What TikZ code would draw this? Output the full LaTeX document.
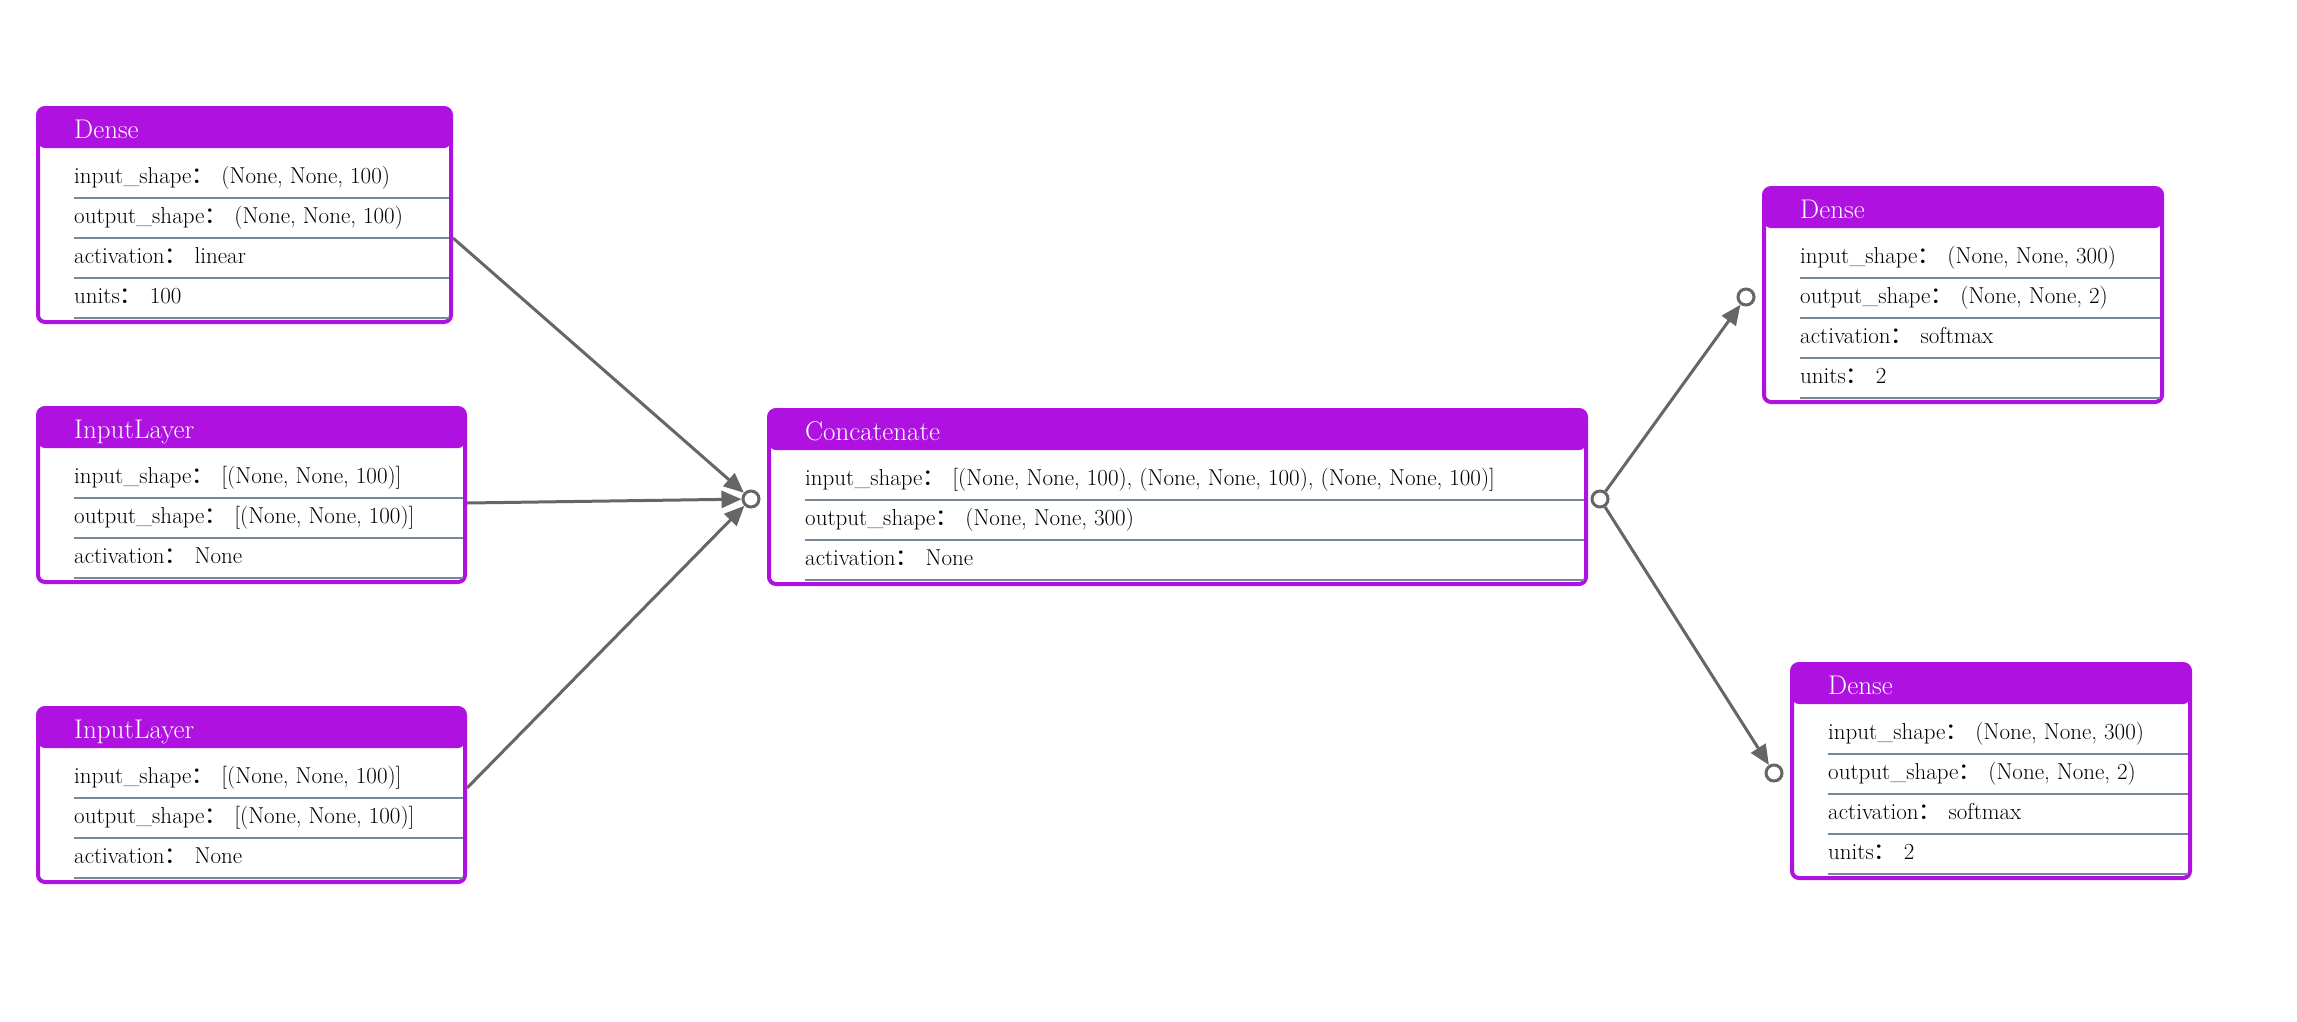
\documentclass[tikz,border=0pt]{standalone}
\usepackage{fontspec}
\newfontfamily\cjk{Noto Sans CJK SC}
\usetikzlibrary{arrows.meta}

\definecolor{layerpurple}{RGB}{174,17,224}
\definecolor{rowline}{RGB}{119,136,153}
\definecolor{linkgray}{RGB}{102,102,102}
\newcommand{\colonzh}{{\cjk ：}\hspace{0.3em}}
\newcommand{\headfont}{\fontsize{27pt}{32pt}\selectfont}
\newcommand{\fieldfont}{\fontsize{23pt}{28pt}\selectfont}

\begin{document}
\begin{tikzpicture}[x=1pt, y=-1pt,
    layer/.style={draw=layerpurple, line width=4pt, fill=white, rounded corners=7pt,
        inner sep=0pt, anchor=north west,
        path picture={\fill[layerpurple] (path picture bounding box.north west)
            rectangle ([yshift=-40pt]path picture bounding box.north east);}},
    headtext/.style={anchor=west, inner sep=0pt, text height=18pt, text depth=6pt,
        text=white, font=\headfont},
    fieldtext/.style={anchor=base west, inner sep=0pt, font=\fieldfont},
    rowsep/.style={draw=rowline, line width=2pt},
    port/.style={circle, draw=linkgray, line width=3pt, fill=white, minimum size=16pt, inner sep=0pt},
    link/.style={draw=linkgray, line width=3pt, -{Triangle[length=20pt, width=17pt]}}]
    \useasboundingbox (0,0) rectangle (2297,1021);

    % layer boxes
    \node[layer, minimum width=413pt, minimum height=214pt] (d1) at (36,106) {};
    \node[layer, minimum width=427pt, minimum height=174pt] (in1) at (36,406) {};
    \node[layer, minimum width=427pt, minimum height=174pt] (in2) at (36,706) {};
    \node[layer, minimum width=817pt, minimum height=174pt] (cat) at (767,408) {};
    \node[layer, minimum width=398pt, minimum height=214pt] (d2) at (1762,186) {};
    \node[layer, minimum width=398pt, minimum height=214pt] (d3) at (1790,662) {};

    % row separators
    \draw[rowsep] (74,198) -- (449,198);
    \draw[rowsep] (74,238) -- (449,238);
    \draw[rowsep] (74,278) -- (449,278);
    \draw[rowsep] (74,318) -- (449,318);
    \draw[rowsep] (74,498) -- (463,498);
    \draw[rowsep] (74,538) -- (463,538);
    \draw[rowsep] (74,578) -- (463,578);
    \draw[rowsep] (74,798) -- (463,798);
    \draw[rowsep] (74,838) -- (463,838);
    \draw[rowsep] (74,878) -- (463,878);
    \draw[rowsep] (805,500) -- (1584,500);
    \draw[rowsep] (805,540) -- (1584,540);
    \draw[rowsep] (805,580) -- (1584,580);
    \draw[rowsep] (1800,278) -- (2160,278);
    \draw[rowsep] (1800,318) -- (2160,318);
    \draw[rowsep] (1800,358) -- (2160,358);
    \draw[rowsep] (1800,398) -- (2160,398);
    \draw[rowsep] (1828,754) -- (2188,754);
    \draw[rowsep] (1828,794) -- (2188,794);
    \draw[rowsep] (1828,834) -- (2188,834);
    \draw[rowsep] (1828,874) -- (2188,874);

    % titles
    \node[headtext] (d1t) at (74,132) {Dense};
    \node[headtext] (in1t) at (74,432) {InputLayer};
    \node[headtext] (in2t) at (74,732) {InputLayer};
    \node[headtext] (catt) at (805,434) {Concatenate};
    \node[headtext] (d2t) at (1800,212) {Dense};
    \node[headtext] (d3t) at (1828,688) {Dense};

    % Dense (top left)
    \node[fieldtext] (d1a) at (74,183) {input\_shape\colonzh(None, None, 100)};
    \node[fieldtext] (d1b) at (74,223) {output\_shape\colonzh(None, None, 100)};
    \node[fieldtext] (d1c) at (74,263) {activation\colonzh linear};
    \node[fieldtext] (d1d) at (74,303) {units\colonzh 100};

    % InputLayer (middle left)
    \node[fieldtext] (in1a) at (74,483) {input\_shape\colonzh[(None, None, 100)]};
    \node[fieldtext] (in1b) at (74,523) {output\_shape\colonzh[(None, None, 100)]};
    \node[fieldtext] (in1c) at (74,563) {activation\colonzh None};

    % InputLayer (bottom left)
    \node[fieldtext] (in2a) at (74,783) {input\_shape\colonzh[(None, None, 100)]};
    \node[fieldtext] (in2b) at (74,823) {output\_shape\colonzh[(None, None, 100)]};
    \node[fieldtext] (in2c) at (74,863) {activation\colonzh None};

    % Concatenate
    \node[fieldtext] (cata) at (805,485) {input\_shape\colonzh[(None, None, 100), (None, None, 100), (None, None, 100)]};
    \node[fieldtext] (catb) at (805,525) {output\_shape\colonzh(None, None, 300)};
    \node[fieldtext] (catc) at (805,565) {activation\colonzh None};

    % Dense (top right)
    \node[fieldtext] (d2a) at (1800,263) {input\_shape\colonzh(None, None, 300)};
    \node[fieldtext] (d2b) at (1800,303) {output\_shape\colonzh(None, None, 2)};
    \node[fieldtext] (d2c) at (1800,343) {activation\colonzh softmax};
    \node[fieldtext] (d2d) at (1800,383) {units\colonzh 2};

    % Dense (bottom right)
    \node[fieldtext] (d3a) at (1828,739) {input\_shape\colonzh(None, None, 300)};
    \node[fieldtext] (d3b) at (1828,779) {output\_shape\colonzh(None, None, 2)};
    \node[fieldtext] (d3c) at (1828,819) {activation\colonzh softmax};
    \node[fieldtext] (d3d) at (1828,859) {units\colonzh 2};

    % ports
    \node[port] (catin) at (751,499) {};
    \node[port] (catout) at (1600,499) {};
    \node[port] (d2in) at (1746,297) {};
    \node[port] (d3in) at (1774,773) {};

    % links
    \draw[link] ([yshift=-23pt]d1.east) -- (catin);
    \draw[link] ([yshift=-8pt]in1.east) -- (catin);
    \draw[link] ([yshift=7pt]in2.east) -- (catin);
    \draw[link] (catout) -- (d2in);
    \draw[link] (catout) -- (d3in);
\end{tikzpicture}
\end{document}
